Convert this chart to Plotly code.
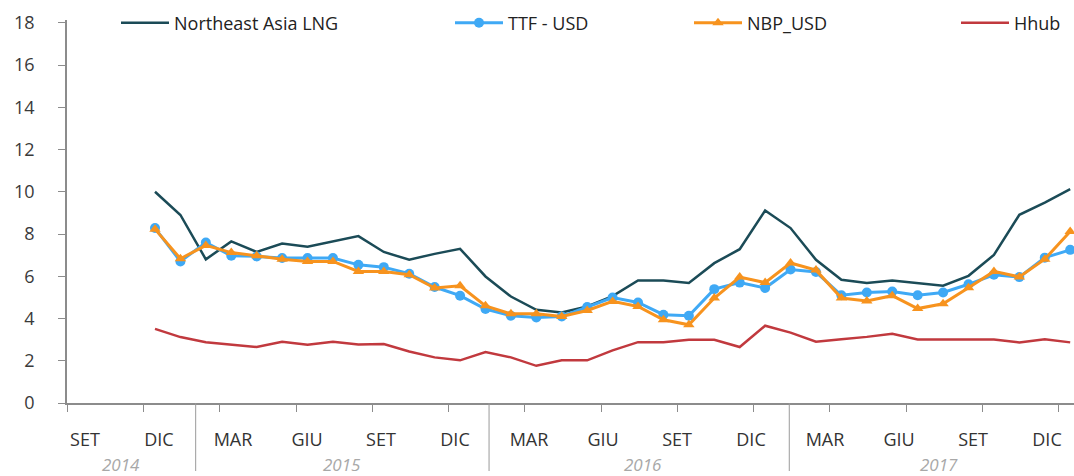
import plotly.graph_objects as go

# ---------------- data (monthly, Dec 2014 -> Dec 2017) ----------------
nea_lng = [10.0, 8.9, 6.8, 7.65, 7.15, 7.55, 7.4, 7.65, 7.9, 7.15, 6.78, 7.06, 7.3,
           5.99, 5.04, 4.41, 4.29, 4.57, 5.06, 5.8, 5.8, 5.68, 6.62, 7.28, 9.11,
           8.28, 6.78, 5.83, 5.68, 5.8, 5.68, 5.55, 6.02, 7.01, 8.91, 9.49, 10.12]
ttf_usd = [8.28, 6.7, 7.6, 6.97, 6.94, 6.86, 6.86, 6.86, 6.54, 6.43, 6.12, 5.49, 5.08,
           4.45, 4.13, 4.05, 4.1, 4.54, 4.99, 4.76, 4.18, 4.13, 5.39, 5.7, 5.44,
           6.32, 6.2, 5.1, 5.23, 5.28, 5.1, 5.23, 5.62, 6.07, 5.96, 6.88, 7.25]
nbp_usd = [8.23, 6.83, 7.46, 7.12, 6.97, 6.81, 6.7, 6.7, 6.23, 6.23, 6.07, 5.44, 5.55,
           4.6, 4.22, 4.22, 4.1, 4.38, 4.81, 4.57, 3.94, 3.7, 4.97, 5.96, 5.7,
           6.63, 6.29, 4.97, 4.83, 5.08, 4.47, 4.7, 5.46, 6.23, 5.97, 6.81, 8.12]
hhub = [3.51, 3.12, 2.88, 2.76, 2.65, 2.9, 2.76, 2.9, 2.77, 2.79, 2.44, 2.16, 2.02,
        2.41, 2.16, 1.76, 2.02, 2.02, 2.49, 2.88, 2.88, 2.99, 2.99, 2.65, 3.66,
        3.33, 2.9, 3.02, 3.13, 3.28, 3.01, 3.01, 3.01, 3.01, 2.87, 3.02, 2.87]
month_labels = ["SET", "DIC", "MAR", "GIU", "SET", "DIC", "MAR", "GIU",
                "SET", "DIC", "MAR", "GIU", "SET", "DIC"]
year_labels = ["2014", "2015", "2016", "2017"]
y_ticks = list(range(0, 19, 2))

# ---------------- layout helpers ----------------
x_idx = list(range(len(nea_lng)))            # month index, 0 = Dec 2014
X_RANGE = [-3.462, 36.15]
tick_pos = [3 * k - 0.45 for k in range(-1, 13)]          # tick marks (month boundaries)
label_pos = [-2.754 + 2.911 * k for k in range(len(month_labels))]
year_pos = [-1.32, 7.36, 19.2, 30.84]
sep_pos = [1.6, 13.14, 24.95]

C_NEA, C_TTF, C_NBP, C_HH = "#1b4b57", "#3fa9f5", "#f7931e", "#c1393e"
AX = "#8c8c8c"
FONT = "Open Sans"

fig = go.Figure()
fig.add_trace(go.Scatter(x=x_idx, y=nea_lng, name="Northeast Asia LNG", mode="lines",
                         line=dict(color=C_NEA, width=2.5), legend="legend"))
fig.add_trace(go.Scatter(x=x_idx, y=ttf_usd, name="TTF - USD", mode="lines+markers",
                         line=dict(color=C_TTF, width=3),
                         marker=dict(symbol="circle", size=10, color=C_TTF),
                         legend="legend2"))
fig.add_trace(go.Scatter(x=x_idx, y=nbp_usd, name="NBP_USD", mode="lines+markers",
                         line=dict(color=C_NBP, width=3),
                         marker=dict(symbol="triangle-up", size=10, color=C_NBP),
                         legend="legend3"))
fig.add_trace(go.Scatter(x=x_idx, y=hhub, name="Hhub", mode="lines",
                         line=dict(color=C_HH, width=2.5), legend="legend4",
                         xaxis="x2"))

W, H = 1074, 476
ML, MR, MT, MB = 67, 0, 20, 73
pw, ph = W - ML - MR, H - MT - MB

def px2paper_x(px):
    return (px - ML) / pw

def px2paper_y(py):
    return (H - MB - py) / ph

leg_common = dict(orientation="h", yanchor="middle", xanchor="left",
                  bgcolor="rgba(0,0,0,0)", itemwidth=48,
                  font=dict(family=FONT, size=18, color="#222222"))
legend_px = [116, 450, 689, 956]
leg_y = px2paper_y(23)

shapes = []
for s in sep_pos:
    shapes.append(dict(type="line", xref="x", yref="paper", x0=s, x1=s,
                       y0=0, y1=px2paper_y(471), line=dict(color="#9a9a9a", width=1)))

annotations = []
for yp, yl in zip(year_pos, year_labels):
    annotations.append(dict(x=yp, y=px2paper_y(464), xref="x", yref="paper", text="<i>" + yl + "</i>",
                            showarrow=False, xanchor="center", yanchor="middle",
                            font=dict(family=FONT, size=17, color="#a8a8a8")))

fig.update_layout(
    width=W, height=H, autosize=False,
    margin=dict(l=ML, r=MR, t=MT, b=MB),
    paper_bgcolor="white", plot_bgcolor="white",
    font=dict(family=FONT, size=18, color="#3a3a3a"),
    showlegend=True,
    legend=dict(x=px2paper_x(legend_px[0]), y=leg_y, **leg_common),
    legend2=dict(x=px2paper_x(legend_px[1]), y=leg_y, **leg_common),
    legend3=dict(x=px2paper_x(legend_px[2]), y=leg_y, **leg_common),
    legend4=dict(x=px2paper_x(legend_px[3]), y=leg_y, **leg_common),
    xaxis=dict(range=X_RANGE, tickmode="array", tickvals=tick_pos,
               ticktext=[""] * len(tick_pos), ticks="outside", ticklen=7,
               tickcolor=AX, tickwidth=1.2, showline=True, linecolor=AX, linewidth=1.5,
               showgrid=False, zeroline=False, fixedrange=True),
    xaxis2=dict(range=X_RANGE, overlaying="x", anchor="y", side="bottom",
                tickmode="array", tickvals=label_pos, ticktext=month_labels,
                ticks="", showline=False, showgrid=False, zeroline=False,
                ticklabelstandoff=24,
                tickfont=dict(family=FONT, size=18, color="#333333")),
    yaxis=dict(range=[0, 18.13], tickmode="array", tickvals=y_ticks,
               ticks="outside", ticklen=7, tickcolor=AX, tickwidth=1.2,
               showline=True, linecolor=AX, linewidth=1.5,
               showgrid=False, zeroline=False, ticklabelstandoff=20,
               tickfont=dict(family=FONT, size=18, color="#3a3a3a")),
    shapes=shapes,
    annotations=annotations,
)

fig.write_html("out.html", config={"displayModeBar": False},
               post_script="document.body.style.margin='0';")
